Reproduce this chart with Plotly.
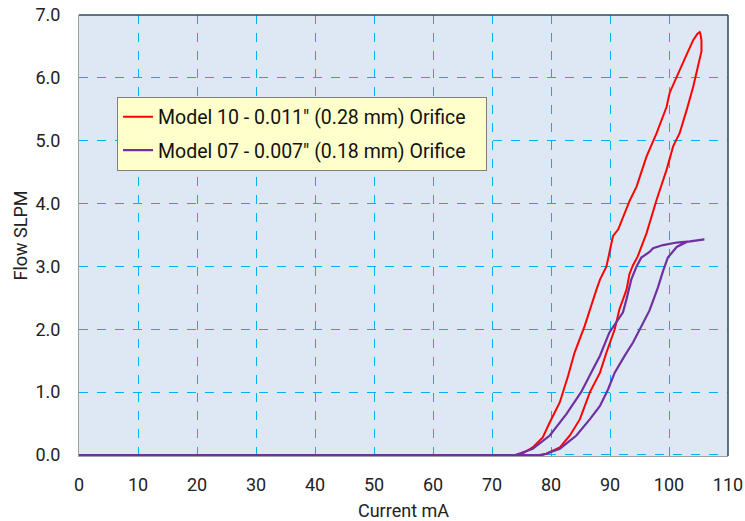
import plotly.graph_objects as go

# Model 10 (red) hysteresis loop: rising branch then falling branch
red_x = [0, 78.5, 79.2, 81.5, 83.2, 84.9, 86.6, 87.7, 88.3, 89.4, 90.8, 91.6, 92.2, 92.8, 93.3, 93.9, 94.7,
         96.2, 97.9, 99.0, 99.6, 100.7, 101.8, 103.0, 104.1, 105.5, 105.5, 105.3, 105.2,
         104.8, 104.1, 102.7, 101.5, 100.1, 99.6, 97.9, 96.2, 94.5, 93.3, 91.4, 90.5, 89.9,
         89.4, 88.3, 87.7, 85.7, 84.0, 82.9, 81.5, 79.8, 78.6, 76.9, 75.3, 74.0, 0]
red_y = [0, 0, 0.02, 0.12, 0.31, 0.57, 1.00, 1.21, 1.31, 1.63, 2.00, 2.32, 2.48, 2.63, 2.88, 3.02, 3.16,
         3.53, 4.06, 4.37, 4.54, 4.91, 5.12, 5.49, 5.86, 6.42, 6.60, 6.71, 6.73,
         6.70, 6.60, 6.31, 6.05, 5.76, 5.54, 5.12, 4.75, 4.27, 4.04, 3.59, 3.48, 3.22,
         3.00, 2.79, 2.63, 2.05, 1.63, 1.26, 0.84, 0.52, 0.28, 0.12, 0.03, 0, 0]

# Model 07 (purple) hysteresis loop
purple_x = [0, 74.0, 76.9, 79.8, 82.6, 85.1, 86.8, 88.3, 89.9, 91.0, 92.2, 92.8, 93.6, 94.5, 95.3,
            96.7, 97.3, 99.0, 101.3, 103.5, 106.0,
            103.0, 101.3, 99.8, 99.0, 98.1, 96.7, 95.0, 93.9, 92.5, 90.8, 89.7, 88.3, 86.6,
            84.3, 81.5, 79.2, 78.0, 0]
purple_y = [0, 0, 0.10, 0.31, 0.65, 1.00, 1.31, 1.58, 1.95, 2.11, 2.27, 2.48, 2.79, 3.00, 3.14,
            3.23, 3.29, 3.34, 3.38, 3.40, 3.43,
            3.39, 3.31, 3.14, 2.93, 2.66, 2.30, 2.00, 1.79, 1.58, 1.31, 1.05, 0.78, 0.57,
            0.31, 0.10, 0.02, 0, 0]

series_names = ['Model 10 - 0.011" (0.28 mm) Orifice', 'Model 07 - 0.007" (0.18 mm) Orifice']

x_ticks = list(range(0, 111, 10))
y_ticks = [0, 1, 2, 3, 4, 5, 6, 7]
y_tick_labels = ["0.0", "1.0", "2.0", "3.0", "4.0", "5.0", "6.0", "7.0"]

FONT = "Roboto"
PAD = "\u00a0" * 3  # right padding inside legend box

fig = go.Figure()
fig.add_trace(go.Scatter(x=red_x, y=red_y, mode="lines", name=series_names[0] + PAD,
                         legendgroup="a", line=dict(color="#FF0000", width=2)))
fig.add_trace(go.Scatter(x=purple_x, y=purple_y, mode="lines", name=series_names[1] + PAD,
                         legendgroup="b", line=dict(color="#7030A0", width=2.2)))

grid = dict(showgrid=True, gridcolor="#00B0F0", gridwidth=1, griddash="dash")

fig.update_layout(
    width=745, height=521,
    margin=dict(l=79, r=17, t=15, b=65, autoexpand=False),
    paper_bgcolor="white",
    plot_bgcolor="#DDE8F4",
    font=dict(family=FONT, size=18, color="#222222"),
    showlegend=True,
    legend=dict(x=0.0586, y=0.815, xanchor="left", yanchor="top",
                bgcolor="#FFFFCC", bordercolor="#808078", borderwidth=1,
                traceorder="grouped", tracegroupgap=5,
                font=dict(family=FONT, size=19.5, color="#111111")),
    xaxis=dict(range=[0, 110], tickvals=x_ticks, ticks="", showline=True,
               linecolor="#A0A0A0", linewidth=1, zeroline=False, ticklabelstandoff=12,
               ticklabeloverflow="allow",
               title=dict(text="Current mA", font=dict(size=18), standoff=12), **grid),
    yaxis=dict(range=[-0.016, 7], tickvals=y_ticks, ticktext=y_tick_labels, ticks="",
               showline=True, linecolor="#A0A0A0", linewidth=1, zeroline=False,
               ticklabelstandoff=14, ticklabeloverflow="allow",
               title=dict(text="Flow SLPM", font=dict(size=18), standoff=3), **grid),
)

# dark top and right border of plot frame
fig.add_shape(type="line", xref="paper", yref="paper", x0=0, x1=1, y0=1, y1=1,
              line=dict(color="#2E4A60", width=1.5))
fig.add_shape(type="line", xref="paper", yref="paper", x0=1, x1=1, y0=0, y1=1,
              line=dict(color="#2E4A60", width=1.5))

fig.write_html("out.html", config={"displayModeBar": False},
               post_script="document.body.style.margin='0';document.body.style.overflow='hidden';")
